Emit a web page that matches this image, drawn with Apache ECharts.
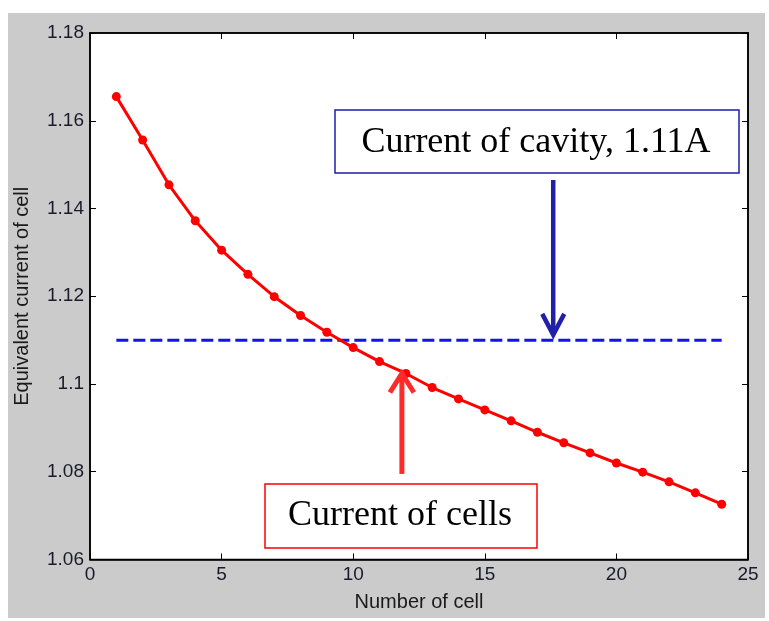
<!DOCTYPE html>
<html>
<head>
<meta charset="utf-8">
<script src="https://cdn.jsdelivr.net/npm/echarts@6/dist/echarts.min.js"></script>
<style>
  html, body { margin: 0; padding: 0; background: #ffffff; }
  #chart { width: 769px; height: 621px; }
</style>
</head>
<body>
<div id="chart"></div>
<script>
// ---- data ----
const cellNumbers = [1,2,3,4,5,6,7,8,9,10,11,12,13,14,15,16,17,18,19,20,21,22,23,24];
const cellCurrents = [1.1655,1.1556,1.1454,1.1372,1.1305,1.1250,1.1199,1.1156,1.1118,1.1083,1.1051,1.1024,
                      1.0992,1.0966,1.0941,1.0916,1.0890,1.0866,1.0843,1.0820,1.0799,1.0777,1.0752,1.0726];
const cavityCurrent = 1.11;
const cavityRange = [1, 24];
const xTicks = [0, 5, 10, 15, 20, 25];
const yTicks = [1.06, 1.08, 1.10, 1.12, 1.14, 1.16, 1.18];
const xName = 'Number of cell';
const yName = 'Equivalent current of cell';
const cavityText = 'Current of cavity, 1.11A';
const cellsText = 'Current of cells';
const cavityArrow = [17.6, 1.1465, 1.1112];   // x, tail y, tip y
const cellsArrow = [11.85, 1.0795, 1.1024];   // x, tail y, tip y

const chart = echarts.init(document.getElementById('chart'), null, { renderer: 'canvas' });

const labelFont = 'Liberation Sans, Arial, sans-serif';
const fmt = v => String(+(+v).toFixed(2));

function axisBase() {
  return {
    z: 6,
    axisLine: { show: true, onZero: false, lineStyle: { color: '#000', width: 1.5 } },
    axisTick: { show: true, inside: true, length: 6, lineStyle: { color: '#000', width: 1 } },
    splitLine: { show: false }
  };
}

const option = {
  animation: false,
  backgroundColor: 'transparent',
  grid: {
    left: 90, top: 33, right: 21, bottom: 61.5,
    show: true, backgroundColor: '#ffffff', borderColor: '#000', borderWidth: 1.5, z: 0
  },
  xAxis: [
    Object.assign(axisBase(), {
      type: 'value', min: xTicks[0], max: xTicks[xTicks.length - 1], interval: 5,
      position: 'bottom',
      name: xName, nameLocation: 'middle', nameGap: 33,
      nameTextStyle: { fontFamily: labelFont, fontSize: 20, color: '#1a1a1a' },
      axisLabel: { fontFamily: labelFont, fontSize: 19, color: '#1a1a2a', margin: 6, formatter: fmt }
    }),
    Object.assign(axisBase(), {
      type: 'value', min: xTicks[0], max: xTicks[xTicks.length - 1], interval: 5,
      position: 'top', axisLabel: { show: false }
    })
  ],
  yAxis: [
    Object.assign(axisBase(), {
      type: 'value', min: yTicks[0], max: yTicks[yTicks.length - 1], interval: 0.02,
      position: 'left',
      name: yName, nameLocation: 'middle', nameGap: 58,
      nameTextStyle: { fontFamily: labelFont, fontSize: 20, color: '#1a1a1a' },
      axisLabel: { fontFamily: labelFont, fontSize: 19, color: '#1a1a2a', margin: 6, formatter: fmt }
    }),
    Object.assign(axisBase(), {
      type: 'value', min: yTicks[0], max: yTicks[yTicks.length - 1], interval: 0.02,
      position: 'right', axisLabel: { show: false }
    })
  ],
  series: [
    {
      type: 'line',
      data: cellNumbers.map((n, i) => [n, cellCurrents[i]]),
      lineStyle: { color: '#ff0000', width: 3 },
      itemStyle: { color: '#ff0000' },
      symbol: 'circle', symbolSize: 9, showSymbol: true,
      z: 5
    },
    {
      type: 'line',
      data: cavityRange.map(x => [x, cavityCurrent]),
      lineStyle: { color: '#1212ee', width: 3, type: [12, 5] },
      symbol: 'none',
      z: 4
    }
  ],
  graphic: [
    { type: 'rect', z: -10, silent: true, shape: { x: 8, y: 13, width: 757, height: 605 },
      style: { fill: '#cbcbcb' } }
  ]
};
chart.setOption(option);

// annotations anchored to data coordinates
const px = p => chart.convertToPixel({ seriesIndex: 0 }, p);
const bTail = px([cavityArrow[0], cavityArrow[1]]);
const bTip = px([cavityArrow[0], cavityArrow[2]]);
const rTail = px([cellsArrow[0], cellsArrow[1]]);
const rTip = px([cellsArrow[0], cellsArrow[2]]);
const blueC = '#2020a8', redC = '#ff2a2a';

chart.setOption({
  graphic: [
    { type: 'rect', z: -10, silent: true, shape: { x: 8, y: 13, width: 757, height: 605 },
      style: { fill: '#cbcbcb' } },
    // blue annotation box
    { type: 'rect', z: 20, shape: { x: 335, y: 110, width: 404, height: 63 },
      style: { fill: '#ffffff', stroke: '#1c1cb0', lineWidth: 1.5 } },
    { type: 'text', z: 21, x: 536, y: 143,
      style: { text: cavityText, font: '36px "Liberation Serif", "Times New Roman", serif',
               fill: '#000', textAlign: 'center', textVerticalAlign: 'middle' } },
    // blue arrow
    { type: 'polyline', z: 20, shape: { points: [bTail, [bTip[0], bTip[1] - 2]] },
      style: { stroke: blueC, lineWidth: 4.5 } },
    { type: 'polyline', z: 20, shape: { points: [[bTip[0] - 11, bTip[1] - 21], bTip, [bTip[0] + 11, bTip[1] - 21]] },
      style: { stroke: blueC, lineWidth: 4.5, fill: null, lineJoin: 'miter' } },
    // red annotation box
    { type: 'rect', z: 20, shape: { x: 265, y: 484, width: 272, height: 64 },
      style: { fill: '#ffffff', stroke: '#ff0000', lineWidth: 1.5 } },
    { type: 'text', z: 21, x: 400, y: 516,
      style: { text: cellsText, font: '36px "Liberation Serif", "Times New Roman", serif',
               fill: '#000', textAlign: 'center', textVerticalAlign: 'middle' } },
    // red arrow
    { type: 'polyline', z: 20, shape: { points: [rTail, [rTip[0], rTip[1] + 2]] },
      style: { stroke: redC, lineWidth: 5 } },
    { type: 'polyline', z: 20, shape: { points: [[rTip[0] - 12, rTip[1] + 19], rTip, [rTip[0] + 12, rTip[1] + 19]] },
      style: { stroke: redC, lineWidth: 5, fill: null, lineJoin: 'miter' } }
  ]
});
</script>
</body>
</html>
